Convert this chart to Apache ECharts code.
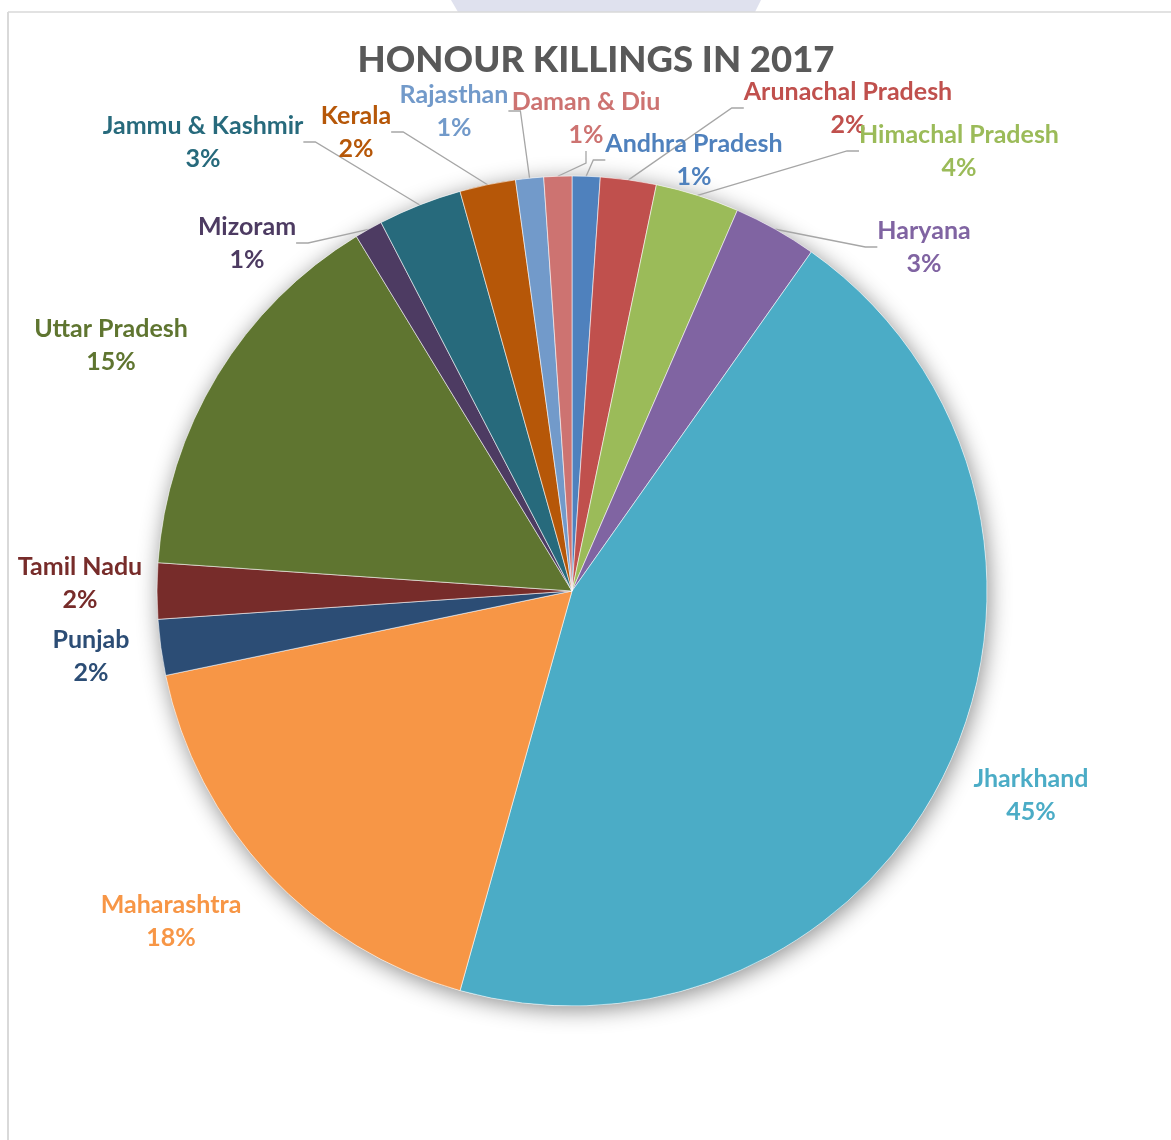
<!DOCTYPE html>
<html>
<head>
<meta charset="utf-8">
<script src="https://cdn.jsdelivr.net/npm/echarts@6/dist/echarts.min.js"></script>
<style>
html,body{margin:0;padding:0;background:#fff;}
#chart{width:1171px;height:1140px;}
</style>
</head>
<body>
<div id="chart"></div>
<script>
// ---- data (clockwise from 12 o'clock) ----
const states = ['Andhra Pradesh','Arunachal Pradesh','Himachal Pradesh','Haryana','Jharkhand','Maharashtra','Punjab','Tamil Nadu','Uttar Pradesh','Mizoram','Jammu & Kashmir','Kerala','Rajasthan','Daman & Diu'];
const cases  = [1, 2, 3, 3, 41, 16, 2, 2, 14, 1, 3, 2, 1, 1];
const titleText = 'HONOUR KILLINGS IN 2017';

// ---- styles / layout ----
const colors = ['#4F81BD','#C0504D','#9BBB59','#8064A2','#4BACC6','#F79646','#2C4D75','#772C2A','#5F7530','#4D3B62','#276A7C','#B65708','#729ACA','#CD7371'];
const labelCenters = [[694,160],[848,108],[959,151],[924,247],[1031,795],[171,921],[91,656],[80,583],[111,345],[247,243],[203,142],[356,132],[454,111],[586,118]];
const noLine = ['Jharkhand','Maharashtra','Punjab','Tamil Nadu','Uttar Pradesh'];
const FONT = 'Lato, "Open Sans", sans-serif';

const chart = echarts.init(document.getElementById('chart'), null, {renderer:'canvas'});
const total = cases.reduce((a,b)=>a+b,0);

chart.setOption({
  backgroundColor:'#ffffff',
  animation:false,
  graphic:[
    {type:'polygon', silent:true, shape:{points:[[451,0],[761,0],[755,12],[458,12]]}, style:{fill:'#dfe1ee'}},
    {type:'line', silent:true, shape:{x1:8,y1:12,x2:1171,y2:12}, style:{stroke:'#d9d9d9', lineWidth:1.5}},
    {type:'line', silent:true, shape:{x1:8,y1:12,x2:8,y2:1140}, style:{stroke:'#d9d9d9', lineWidth:2}},
    {type:'text', silent:true, x:596, y:60, style:{text:titleText, fill:'#595959', font:'900 36.5px '+FONT, textAlign:'center', textVerticalAlign:'middle'}}
  ],
  series:[
    {
      type:'pie', silent:true, center:[572,591], radius:415, z:1,
      label:{show:false}, labelLine:{show:false},
      itemStyle:{color:'#ffffff', shadowBlur:22, shadowColor:'rgba(0,0,0,0.45)', shadowOffsetX:2, shadowOffsetY:4},
      data:[{name:'', value: total}]
    },
    {
      type:'pie', center:[572,591], radius:415, z:2,
      startAngle:90, clockwise:true, percentPrecision:0,
      avoidLabelOverlap:false,
      itemStyle:{borderColor:'rgba(255,255,255,0.55)', borderWidth:1},
      label:{show:true, position:'outside', formatter:'{b}\n{d}%', fontFamily:FONT, fontWeight:'bold', fontSize:25, lineHeight:33, align:'center'},
      labelLine:{show:true, length:10, length2:12, lineStyle:{color:'#a6a6a6', width:1.3}},
      labelLayout:function(p){
        const c = labelCenters[p.dataIndex];
        return {x:c[0], y:c[1], align:'center', verticalAlign:'middle'};
      },
      data: states.map((s,i)=>({
        name:s, value:cases[i],
        itemStyle:{color:colors[i]},
        label:{color:colors[i]},
        labelLine:{show: noLine.indexOf(s) < 0}
      }))
    }
  ]
});
</script>
</body>
</html>
